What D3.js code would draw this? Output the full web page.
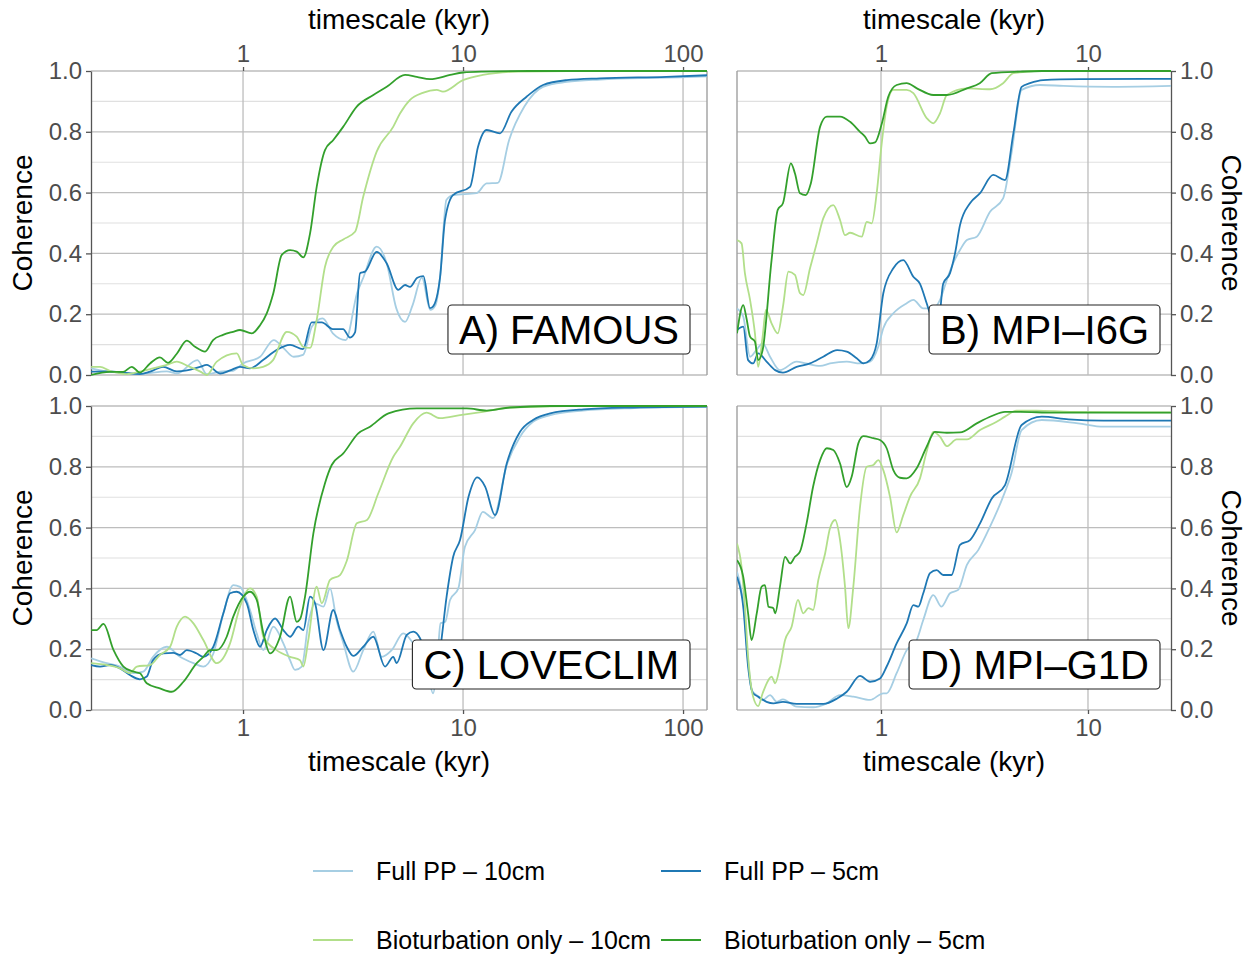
<!DOCTYPE html>
<html>
<head>
	<title>Coherence</title>
	<script type="text/javascript" src="https://cdnjs.cloudflare.com/ajax/libs/d3/7.8.5/d3.min.js"></script>
	<style>
		body { margin: 0; background: #fff; }
		text { font-family: "Liberation Sans", Arial, sans-serif; }
	</style>
</head>
<body>
	<svg id="chart" width="1256" height="958"></svg>
	<script type="text/javascript">
		// ---- data: [timescale (kyr), coherence] ----
		var seriesNames = ["Full PP \u2013 10cm", "Full PP \u2013 5cm", "Bioturbation only \u2013 10cm", "Bioturbation only \u2013 5cm"];
		var seriesColors = ["#a6cee3", "#1f78b4", "#b2df8a", "#33a02c"];
		var panelLabels = ["A) FAMOUS", "B) MPI\u2013I6G", "C) LOVECLIM", "D) MPI\u2013G1D"];
		var yTicks = [0, 0.2, 0.4, 0.6, 0.8, 1.0];
		var yMinor = [0.1, 0.3, 0.5, 0.7, 0.9];
		var xTicks = [1, 10, 100];

		var famousFull10 = [[0.204,0.022],[0.248,0.01],[0.34,0.004],[0.45,0.012],[0.50,0.005],[0.62,0.049],[0.684,0.003],[0.786,0.011],[0.90,0.014],[1.0,0.038],[1.195,0.060],[1.38,0.115],[1.53,0.088],[1.70,0.060],[1.874,0.066],[2.06,0.16],[2.30,0.186],[2.56,0.137],[2.93,0.115],[3.30,0.27],[3.52,0.32],[4.05,0.422],[4.5,0.367],[4.97,0.22],[5.45,0.175],[5.9,0.23],[6.5,0.32],[7.1,0.214],[7.5,0.23],[7.86,0.32],[8.4,0.576],[9.0,0.592],[11.5,0.598],[12.8,0.63],[14.4,0.632],[16.2,0.773],[19.0,0.883],[23.1,0.948],[29.6,0.964],[42,0.972],[84,0.978],[128.5,0.982]];
		var famousFull5 = [[0.204,0.011],[0.248,0.012],[0.285,0.008],[0.34,0.003],[0.378,0.011],[0.433,0.027],[0.50,0.012],[0.555,0.015],[0.638,0.027],[0.684,0.033],[0.786,0.005],[0.873,0.015],[0.969,0.027],[1.076,0.022],[1.233,0.049],[1.42,0.082],[1.636,0.099],[1.874,0.085],[2.05,0.173],[2.28,0.173],[2.56,0.151],[2.85,0.151],[3.065,0.123],[3.229,0.14],[3.403,0.335],[3.585,0.34],[4.05,0.405],[4.5,0.367],[5.08,0.28],[5.45,0.296],[5.74,0.29],[6.2,0.32],[6.6,0.325],[7.08,0.22],[7.3,0.225],[7.86,0.32],[8.28,0.51],[9.0,0.592],[10.76,0.619],[11.7,0.751],[12.8,0.806],[14.73,0.795],[16.6,0.866],[19.5,0.916],[23.1,0.954],[29.6,0.970],[41.9,0.976],[84,0.981],[128.5,0.986]];
		var famousBio10 = [[0.204,0.027],[0.224,0.027],[0.248,0.014],[0.296,0.003],[0.34,0.011],[0.39,0.022],[0.45,0.033],[0.50,0.044],[0.56,0.03],[0.64,0.011],[0.684,0.0],[0.76,0.044],[0.936,0.071],[1.0,0.033],[1.11,0.022],[1.233,0.027],[1.369,0.049],[1.58,0.142],[1.754,0.126],[1.874,0.093],[2.017,0.089],[2.162,0.181],[2.358,0.356],[2.573,0.422],[2.856,0.446],[3.229,0.471],[3.52,0.587],[4.05,0.735],[4.82,0.817],[5.17,0.86],[5.742,0.905],[6.56,0.928],[7.6,0.938],[8.1,0.932],[10,0.970],[12.3,0.987],[17.8,0.998],[30,1.0],[128.5,1.0]];
		var famousBio5 = [[0.204,0.0],[0.248,0.01],[0.285,0.01],[0.312,0.027],[0.340,0.008],[0.378,0.038],[0.419,0.058],[0.456,0.04],[0.50,0.07],[0.555,0.113],[0.605,0.093],[0.672,0.077],[0.731,0.115],[0.811,0.132],[0.901,0.142],[0.969,0.148],[1.096,0.137],[1.195,0.164],[1.282,0.203],[1.373,0.269],[1.5,0.395],[1.636,0.411],[1.754,0.406],[1.879,0.387],[2.017,0.466],[2.162,0.619],[2.358,0.74],[2.573,0.773],[2.856,0.817],[3.288,0.883],[3.911,0.921],[4.5,0.948],[5.45,0.987],[6.16,0.981],[7.08,0.973],[8.73,0.987],[10,0.995],[12.3,0.998],[20,1.0],[128.5,1.0]];

		var i6gFull10 = [[0.2015,0.219],[0.216,0.192],[0.233,0.06],[0.25,0.082],[0.268,0.104],[0.291,0.06],[0.325,0.016],[0.391,0.044],[0.433,0.038],[0.508,0.03],[0.567,0.038],[0.683,0.044],[0.792,0.038],[0.885,0.044],[0.97,0.093],[1.026,0.154],[1.147,0.203],[1.331,0.236],[1.433,0.247],[1.6,0.219],[1.789,0.219],[1.928,0.247],[2.08,0.313],[2.23,0.367],[2.408,0.411],[2.6,0.444],[2.9,0.455],[3.363,0.537],[3.89,0.581],[4.27,0.729],[4.78,0.938],[5.87,0.954],[7.6,0.951],[13.2,0.948],[25.2,0.951]];
		var i6gFull5 = [[0.2015,0.148],[0.216,0.159],[0.228,0.049],[0.241,0.038],[0.255,0.071],[0.28,0.044],[0.308,0.016],[0.336,0.008],[0.391,0.027],[0.454,0.038],[0.526,0.06],[0.614,0.082],[0.683,0.077],[0.763,0.055],[0.822,0.038],[0.885,0.049],[0.953,0.104],[1.026,0.269],[1.147,0.351],[1.281,0.378],[1.433,0.323],[1.543,0.30],[1.662,0.236],[1.725,0.203],[1.892,0.17],[1.997,0.30],[2.155,0.335],[2.278,0.40],[2.408,0.493],[2.692,0.565],[3.009,0.598],[3.483,0.658],[3.973,0.641],[4.36,0.795],[4.78,0.948],[5.248,0.96],[6.07,0.97],[9.15,0.973],[25.2,0.974]];
		var i6gBio10 = [[0.2015,0.444],[0.212,0.433],[0.22,0.335],[0.233,0.247],[0.246,0.137],[0.255,0.027],[0.268,0.126],[0.278,0.214],[0.296,0.17],[0.317,0.137],[0.336,0.225],[0.357,0.34],[0.384,0.329],[0.406,0.269],[0.421,0.263],[0.454,0.351],[0.489,0.433],[0.526,0.515],[0.588,0.559],[0.634,0.51],[0.67,0.46],[0.709,0.468],[0.807,0.455],[0.853,0.504],[0.902,0.499],[0.953,0.598],[1.008,0.762],[1.065,0.883],[1.147,0.938],[1.331,0.938],[1.433,0.927],[1.662,0.845],[1.789,0.828],[1.928,0.861],[2.08,0.921],[2.6,0.943],[3.363,0.94],[3.89,0.96],[4.36,0.993],[4.85,0.996],[5.5,1.0],[25.2,1.0]];
		var i6gBio5 = [[0.2015,0.137],[0.216,0.23],[0.224,0.186],[0.233,0.126],[0.246,0.11],[0.255,0.049],[0.268,0.082],[0.296,0.378],[0.317,0.543],[0.336,0.565],[0.367,0.696],[0.384,0.663],[0.406,0.598],[0.433,0.592],[0.458,0.63],[0.508,0.817],[0.547,0.85],[0.634,0.85],[0.709,0.833],[0.792,0.80],[0.837,0.784],[0.885,0.762],[0.936,0.765],[1.01,0.828],[1.085,0.916],[1.19,0.954],[1.33,0.96],[1.49,0.943],[1.79,0.921],[2.08,0.921],[2.6,0.943],[3.0,0.96],[3.43,0.993],[4.7,0.998],[6,1.0],[25.2,1.0]];

		var loveFull10 = [[0.204,0.17],[0.24,0.154],[0.276,0.143],[0.318,0.121],[0.352,0.126],[0.39,0.175],[0.45,0.208],[0.517,0.175],[0.595,0.154],[0.66,0.143],[0.733,0.186],[0.814,0.318],[0.903,0.411],[0.969,0.405],[1.076,0.329],[1.154,0.252],[1.237,0.197],[1.373,0.274],[1.525,0.219],[1.636,0.164],[1.723,0.132],[1.85,0.143],[1.98,0.285],[2.125,0.351],[2.32,0.34],[2.486,0.40],[2.66,0.296],[2.86,0.219],[3.17,0.126],[3.52,0.197],[3.91,0.258],[4.27,0.175],[4.74,0.197],[5.35,0.252],[5.94,0.219],[6.82,0.143],[7.31,0.055],[7.7,0.2],[7.9,0.285],[8.3,0.29],[8.73,0.362],[9.52,0.40],[10.2,0.537],[11.34,0.592],[12.3,0.652],[13.7,0.631],[15.8,0.806],[18.16,0.899],[20.8,0.948],[24.9,0.97],[35,0.985],[60,0.993],[128.5,0.997]];
		var loveFull5 = [[0.204,0.148],[0.224,0.143],[0.248,0.148],[0.276,0.137],[0.306,0.115],[0.34,0.101],[0.365,0.11],[0.39,0.164],[0.434,0.186],[0.482,0.188],[0.517,0.181],[0.555,0.197],[0.616,0.186],[0.66,0.175],[0.733,0.208],[0.814,0.318],[0.873,0.384],[0.936,0.389],[1.04,0.351],[1.114,0.263],[1.195,0.208],[1.282,0.263],[1.398,0.301],[1.525,0.263],[1.636,0.241],[1.784,0.274],[1.88,0.263],[2.017,0.373],[2.125,0.351],[2.32,0.197],[2.57,0.329],[2.76,0.263],[2.96,0.208],[3.17,0.178],[3.52,0.208],[3.91,0.241],[4.42,0.143],[4.82,0.175],[4.99,0.154],[5.55,0.247],[5.94,0.258],[6.375,0.236],[6.82,0.175],[7.31,0.11],[7.86,0.197],[8.42,0.373],[9.02,0.504],[9.69,0.559],[10.6,0.702],[11.6,0.765],[12.6,0.735],[13.98,0.641],[15.8,0.811],[18.16,0.915],[20.8,0.954],[24.9,0.976],[35.3,0.989],[59.3,0.995],[128.5,0.998]];
		var loveBio10 = [[0.204,0.154],[0.24,0.148],[0.276,0.137],[0.306,0.121],[0.329,0.143],[0.378,0.148],[0.419,0.181],[0.466,0.208],[0.50,0.274],[0.545,0.307],[0.595,0.285],[0.66,0.23],[0.76,0.154],[0.873,0.219],[0.969,0.34],[1.076,0.40],[1.154,0.373],[1.237,0.241],[1.42,0.197],[1.636,0.175],[1.816,0.164],[1.88,0.143],[1.98,0.23],[2.16,0.406],[2.28,0.351],[2.486,0.428],[2.76,0.444],[2.96,0.49],[3.29,0.614],[3.66,0.625],[4.12,0.713],[4.82,0.833],[5.17,0.866],[5.94,0.943],[6.82,0.978],[7.86,0.96],[9.69,0.97],[12.3,0.981],[16.36,0.995],[30,1.0],[128.5,1.0]];
		var loveBio5 = [[0.204,0.263],[0.216,0.263],[0.232,0.283],[0.258,0.197],[0.286,0.143],[0.318,0.126],[0.34,0.121],[0.365,0.088],[0.419,0.071],[0.474,0.06],[0.536,0.093],[0.616,0.154],[0.66,0.175],[0.708,0.197],[0.76,0.197],[0.843,0.241],[0.903,0.307],[1.003,0.373],[1.076,0.389],[1.154,0.362],[1.237,0.252],[1.327,0.186],[1.473,0.241],[1.636,0.373],[1.754,0.29],[1.82,0.30],[1.914,0.373],[2.088,0.581],[2.358,0.746],[2.53,0.806],[2.856,0.844],[3.34,0.91],[3.778,0.932],[4.58,0.976],[6.16,0.992],[10.4,0.992],[12.8,0.985],[16.36,0.995],[25,1.0],[128.5,1.0]];

		var g1dFull10 = [[0.2015,0.455],[0.216,0.351],[0.228,0.164],[0.237,0.066],[0.251,0.049],[0.268,0.033],[0.291,0.049],[0.314,0.027],[0.336,0.035],[0.391,0.011],[0.47,0.009],[0.547,0.022],[0.634,0.049],[0.735,0.044],[0.885,0.033],[1.026,0.055],[1.065,0.055],[1.19,0.121],[1.331,0.197],[1.487,0.23],[1.6,0.296],[1.789,0.378],[1.96,0.34],[2.155,0.384],[2.36,0.395],[2.6,0.477],[2.95,0.526],[3.363,0.603],[3.89,0.702],[4.27,0.779],[4.78,0.921],[5.98,0.954],[8.95,0.943],[11.9,0.932],[25.2,0.932]];
		var g1dFull5 = [[0.2015,0.438],[0.216,0.34],[0.228,0.143],[0.241,0.055],[0.255,0.044],[0.28,0.027],[0.302,0.022],[0.336,0.027],[0.391,0.02],[0.454,0.02],[0.526,0.02],[0.614,0.038],[0.683,0.06],[0.792,0.112],[0.885,0.093],[0.989,0.104],[1.065,0.143],[1.19,0.219],[1.331,0.285],[1.433,0.345],[1.515,0.34],[1.6,0.384],[1.725,0.45],[1.858,0.46],[1.997,0.444],[2.19,0.444],[2.408,0.543],[2.692,0.559],[3.009,0.614],[3.43,0.696],[3.973,0.74],[4.78,0.9375],[5.98,0.965],[8.05,0.956],[11.9,0.952],[25.2,0.952]];
		var g1dBio10 = [[0.2015,0.548],[0.212,0.471],[0.22,0.34],[0.228,0.175],[0.241,0.044],[0.255,0.013],[0.268,0.055],[0.286,0.099],[0.296,0.11],[0.308,0.088],[0.325,0.143],[0.344,0.23],[0.37,0.274],[0.397,0.362],[0.421,0.318],[0.446,0.335],[0.47,0.329],[0.498,0.428],[0.537,0.515],[0.567,0.598],[0.60,0.625],[0.634,0.559],[0.67,0.406],[0.695,0.269],[0.735,0.406],[0.792,0.669],[0.853,0.80],[0.918,0.806],[0.97,0.822],[1.026,0.789],[1.105,0.702],[1.19,0.584],[1.281,0.641],[1.381,0.702],[1.543,0.762],[1.662,0.85],[1.789,0.915],[1.928,0.899],[2.08,0.868],[2.32,0.89],[2.6,0.89],[3.009,0.921],[3.62,0.948],[3.97,0.965],[4.52,0.985],[5.65,0.985],[8.2,0.981],[25.2,0.979]];
		var g1dBio5 = [[0.2015,0.493],[0.216,0.438],[0.228,0.318],[0.237,0.23],[0.251,0.318],[0.265,0.406],[0.275,0.411],[0.286,0.34],[0.302,0.335],[0.308,0.318],[0.325,0.406],[0.344,0.504],[0.364,0.482],[0.384,0.504],[0.406,0.521],[0.437,0.614],[0.47,0.735],[0.508,0.822],[0.547,0.861],[0.588,0.855],[0.634,0.811],[0.683,0.733],[0.722,0.768],[0.777,0.877],[0.821,0.901],[0.918,0.894],[0.989,0.888],[1.065,0.861],[1.147,0.789],[1.235,0.764],[1.331,0.762],[1.487,0.795],[1.662,0.866],[1.823,0.915],[2.08,0.912],[2.408,0.913],[2.9,0.943],[3.43,0.967],[3.97,0.981],[4.695,0.981],[6.8,0.978],[25.2,0.978]];

		// ---- layout ----
		var panels = [
			{label: panelLabels[0], series: [famousFull10, famousFull5, famousBio10, famousBio5], left: 91, right: 707, top: 71, bottom: 375, xDomain: [0.2037, 128.5], xSide: "top", ySide: "left", boxRight: 690},
			{label: panelLabels[1], series: [i6gFull10, i6gFull5, i6gBio10, i6gBio5], left: 737, right: 1171, top: 71, bottom: 375, xDomain: [0.2015, 25.18], xSide: "top", ySide: "right", boxRight: 1160},
			{label: panelLabels[2], series: [loveFull10, loveFull5, loveBio10, loveBio5], left: 91, right: 707, top: 406, bottom: 710, xDomain: [0.2037, 128.5], xSide: "bottom", ySide: "left", boxRight: 690},
			{label: panelLabels[3], series: [g1dFull10, g1dFull5, g1dBio10, g1dBio5], left: 737, right: 1171, top: 406, bottom: 710, xDomain: [0.2015, 25.18], xSide: "bottom", ySide: "right", boxRight: 1160}
		];

		var svg = d3.select("#chart");
		var tickColor = "#4d4d4d";

		panels.forEach(function (p, pi) {
			var x = d3.scaleLog().domain(p.xDomain).range([p.left, p.right]);
			var y = d3.scaleLinear().domain([0, 1]).range([p.bottom, p.top]);
			var g = svg.append("g");

			g.append("clipPath").attr("id", "clip" + pi)
				.append("rect")
				.attr("x", p.left).attr("y", p.top - 2)
				.attr("width", p.right - p.left).attr("height", p.bottom - p.top + 4);

			//grid
			g.selectAll(".minor").data(yMinor).enter().append("line")
				.attr("x1", p.left).attr("x2", p.right)
				.attr("y1", function (d) { return y(d); }).attr("y2", function (d) { return y(d); })
				.attr("stroke", "#e0e0e0").attr("stroke-width", 1.1);
			g.selectAll(".major").data(yTicks).enter().append("line")
				.attr("x1", p.left).attr("x2", p.right)
				.attr("y1", function (d) { return y(d); }).attr("y2", function (d) { return y(d); })
				.attr("stroke", "#bdbdbd").attr("stroke-width", 1.3);
			var xt = xTicks.filter(function (d) { return d >= p.xDomain[0] && d <= p.xDomain[1]; });
			g.selectAll(".vgrid").data(xt).enter().append("line")
				.attr("x1", function (d) { return x(d); }).attr("x2", function (d) { return x(d); })
				.attr("y1", p.top).attr("y2", p.bottom)
				.attr("stroke", "#bdbdbd").attr("stroke-width", 1.3);

			//edge line on the side without labels
			var edgeX = p.ySide == "left" ? p.right : p.left;
			g.append("line")
				.attr("x1", edgeX).attr("x2", edgeX).attr("y1", p.top).attr("y2", p.bottom)
				.attr("stroke", "#a0a0a0").attr("stroke-width", 1.4);

			//y axis
			var yAxis = (p.ySide == "left" ? d3.axisLeft(y) : d3.axisRight(y))
				.tickValues(yTicks).tickFormat(d3.format(".1f"))
				.tickSizeInner(5).tickSizeOuter(0).tickPadding(4);
			var ya = g.append("g")
				.attr("transform", "translate(" + (p.ySide == "left" ? p.left : p.right) + ",0)")
				.call(yAxis);
			ya.select(".domain").attr("stroke", "#555").attr("stroke-width", 1.3);
			ya.selectAll(".tick line").attr("stroke", "#555").attr("stroke-width", 1.3);
			ya.selectAll(".tick text").attr("fill", tickColor).style("font-size", "24px")
				.style("font-family", "'Liberation Sans', Arial, sans-serif");

			//x axis
			var xAxis = (p.xSide == "top" ? d3.axisTop(x) : d3.axisBottom(x))
				.tickValues(xt).tickFormat(d3.format("d"))
				.tickSizeInner(4).tickSizeOuter(0).tickPadding(5);
			var xa = g.append("g")
				.attr("transform", "translate(0," + (p.xSide == "top" ? p.top : p.bottom) + ")")
				.call(xAxis);
			xa.select(".domain").remove();
			xa.selectAll(".tick line").attr("stroke", "#555").attr("stroke-width", 1.3);
			xa.selectAll(".tick text").attr("fill", tickColor).style("font-size", "24px")
				.style("font-family", "'Liberation Sans', Arial, sans-serif");

			//axis titles
			var cx = (p.left + p.right) / 2;
			g.append("text")
				.attr("x", cx).attr("y", p.xSide == "top" ? 29 : 771)
				.attr("text-anchor", "middle").style("font-size", "28px").attr("fill", "#000")
				.text("timescale (kyr)");
			var cy = (p.top + p.bottom) / 2;
			if (p.ySide == "left") {
				g.append("text")
					.attr("transform", "translate(32," + cy + ") rotate(-90)")
					.attr("text-anchor", "middle").style("font-size", "28px").text("Coherence");
			} else {
				g.append("text")
					.attr("transform", "translate(1222," + cy + ") rotate(90)")
					.attr("text-anchor", "middle").style("font-size", "28px").text("Coherence");
			}

			//lines
			var line = d3.line()
				.x(function (d) { return x(d[0]); })
				.y(function (d) { return y(d[1]); })
				.curve(d3.curveMonotoneX);
			var lg = g.append("g").attr("clip-path", "url(#clip" + pi + ")");
			p.series.forEach(function (s, si) {
				lg.append("path")
					.datum(s)
					.attr("d", line)
					.attr("fill", "none")
					.attr("stroke", seriesColors[si])
					.attr("stroke-width", 1.8)
					.attr("stroke-linejoin", "round");
			});

			//panel label
			var lab = g.append("g");
			var t = lab.append("text")
				.attr("y", p.bottom - 31)
				.style("font-size", "40px").attr("fill", "#000")
				.text(p.label);
			var w = t.node().getComputedTextLength();
			var bx = p.boxRight - w - 22;
			t.attr("x", bx + 11);
			lab.insert("rect", "text")
				.attr("x", bx).attr("y", p.bottom - 70)
				.attr("width", w + 22).attr("height", 49)
				.attr("rx", 4).attr("ry", 4)
				.attr("fill", "#fff").attr("stroke", "#222").attr("stroke-width", 1.1);
		});

		//legend
		var legendPos = [[313, 871], [661, 871], [313, 940], [661, 940]];
		var leg = svg.append("g");
		seriesNames.forEach(function (name, si) {
			var pos = legendPos[si];
			leg.append("line")
				.attr("x1", pos[0]).attr("x2", pos[0] + 40)
				.attr("y1", pos[1]).attr("y2", pos[1])
				.attr("stroke", seriesColors[si]).attr("stroke-width", 1.9);
			leg.append("text")
				.attr("x", pos[0] + 63).attr("y", pos[1] + 9)
				.style("font-size", "25px").attr("fill", "#000")
				.text(name);
		});
	</script>
</body>
</html>
